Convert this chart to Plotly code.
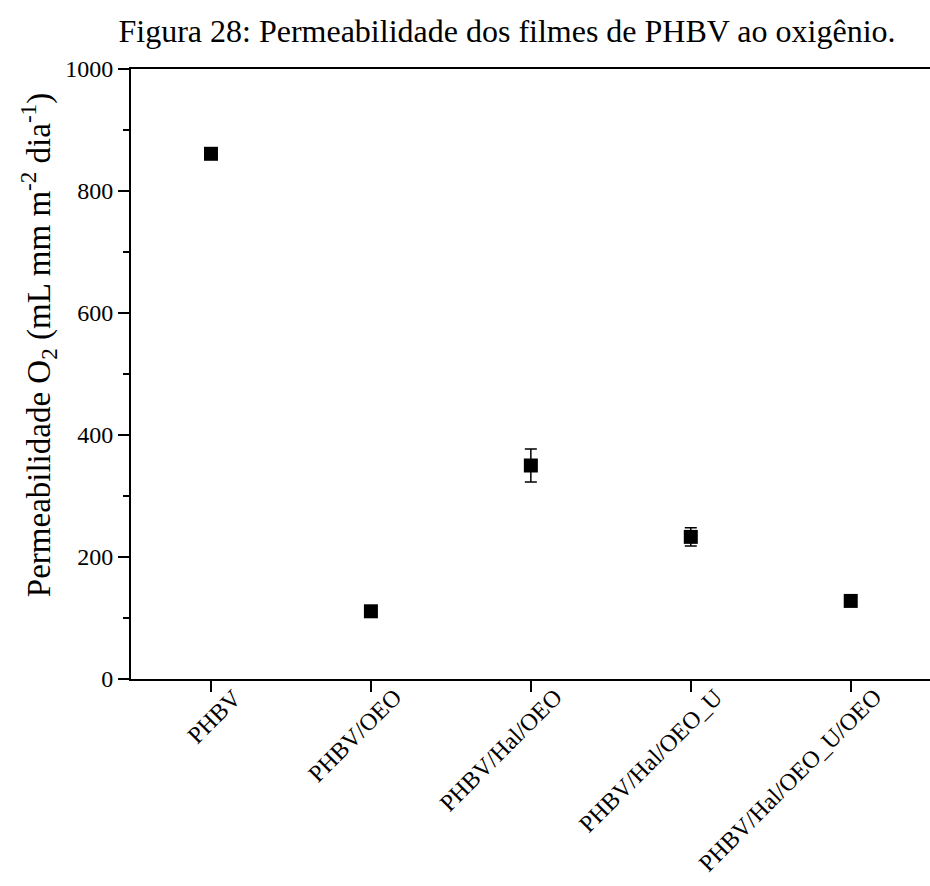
import plotly.graph_objects as go

categories = ["PHBV", "PHBV/OEO", "PHBV/Hal/OEO", "PHBV/Hal/OEO_U", "PHBV/Hal/OEO_U/OEO"]
permeability = [861, 111, 350, 233, 128]
error = [6, 5, 27, 15, 5]

FONT = "Liberation Serif, Times New Roman, serif"

fig = go.Figure()
fig.add_trace(go.Scatter(
    x=list(range(len(categories))),
    y=permeability,
    mode="markers",
    marker=dict(symbol="square", size=14, color="black"),
    error_y=dict(type="data", array=error, visible=True, color="black", thickness=1.5, width=6),
    showlegend=False,
))

W, H = 930, 886
left, right_px, top, bottom_px = 130.7, 930, 69.3, 679
ph = bottom_px - top
fig.update_layout(
    width=W, height=H,
    margin=dict(l=left, r=W - right_px, t=top, b=H - bottom_px),
    paper_bgcolor="white", plot_bgcolor="white",
    font=dict(family=FONT, size=24, color="black"),
    title=dict(text="Figura 28: Permeabilidade dos filmes de PHBV ao oxigênio.",
               x=507 / W, xanchor="center", y=1 - 31 / H, yanchor="middle",
               font=dict(family=FONT, size=32, color="black")),
)
fig.update_xaxes(
    range=[-0.5, -0.5 + (right_px - left) / 160],
    tickmode="array", tickvals=list(range(len(categories))), showticklabels=False,
    ticks="outside", ticklen=11, tickwidth=2, tickcolor="black",
    showline=True, linewidth=2, linecolor="black", mirror=True,
    showgrid=False, zeroline=False,
)
fig.update_yaxes(
    range=[0, 1000], dtick=200, ticks="outside", ticklen=11, tickwidth=2, tickcolor="black",
    showline=True, linewidth=2, linecolor="black",
    showgrid=False, zeroline=False,
    minor=dict(dtick=100, ticks="outside", ticklen=6, tickwidth=2, tickcolor="black", showgrid=False),
    tickfont=dict(family=FONT, size=24, color="black"),
)
for i, cat in enumerate(categories):
    fig.add_annotation(
        text=cat, x=i, xref="x", y=-(681 - bottom_px) / ph, yref="paper",
        xanchor="right", yanchor="top", xshift=39, textangle=-45, showarrow=False,
        font=dict(family=FONT, size=24, color="black"),
    )
fig.add_annotation(
    text="Permeabilidade O<sub>2</sub> (mL mm m<sup>-2</sup> dia<sup>-1</sup>)",
    xref="paper", yref="paper",
    x=-(left - 39) / (right_px - left), y=(bottom_px - 345) / ph,
    xanchor="center", yanchor="middle", textangle=-90, showarrow=False,
    font=dict(family=FONT, size=33, color="black"),
)
fig.write_html("out.html")
